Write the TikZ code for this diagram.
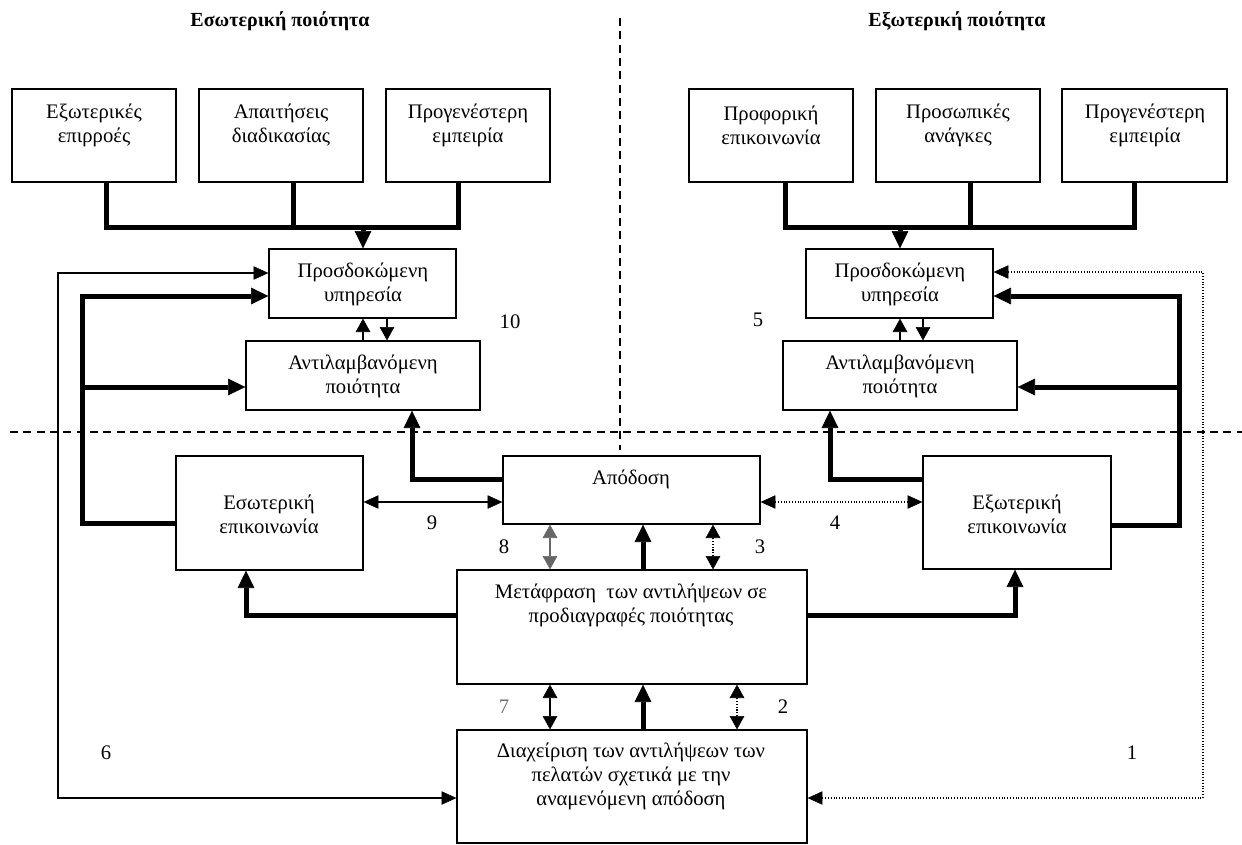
\documentclass[tikz,border=0pt]{standalone}
\usepackage{fontspec}
\setmainfont{Liberation Serif}
\usetikzlibrary{arrows.meta,fit}

\tikzset{
  box/.style={draw, line width=1pt, inner sep=0pt, fit={#1}},
  txt/.style={font=\fontsize{15.5}{18}\selectfont, align=center, inner sep=0pt},
  ttl/.style={font=\bfseries\fontsize{15}{18}\selectfont, inner sep=0pt},
  num/.style={font=\fontsize{15.5}{18}\selectfont, inner sep=0pt},
  divider/.style={line width=0.9pt, dash pattern=on 6pt off 4pt},
  bigtip/.tip={Triangle[length=13pt,width=12.5pt,line width=0.4pt]},
  smalltip/.tip={Triangle[length=11pt,width=10pt,line width=0.4pt]},
  vtip/.tip={Triangle[length=10pt,width=11pt,line width=0.4pt]},
  heavyline/.style={line width=3.75pt, line join=miter},
  heavy/.style={heavyline, -bigtip},
  light/.style={line width=1pt, line join=miter, -smalltip},
  lightboth/.style={line width=1pt, line join=miter, smalltip-smalltip},
  dotboth/.style={line width=0.8pt, dash pattern=on 0.8pt off 1.3pt, smalltip-smalltip},
  vboth/.style={line width=1pt, vtip-vtip},
  vdotboth/.style={line width=0.8pt, dash pattern=on 0.8pt off 1.3pt, vtip-vtip},
  vup/.style={line width=1pt, -vtip},
}

\begin{document}
\begin{tikzpicture}[x=0.75pt,y=-0.75pt]
\useasboundingbox (0,0) rectangle (1242,844);

% headings of the two halves
\node[ttl] (hin)  at (280,21) {Εσωτερική ποιότητα};
\node[ttl] (hout) at (957,21) {Εξωτερική ποιότητα};

% dashed dividers
\coordinate (dvt) at (620,18);
\coordinate (dvb) at (620,450);
\coordinate (dhl) at (10,432);
\coordinate (dhr) at (1242,432);
\draw[divider] (dvt) -- (dvb);
\draw[divider] (dhl) -- (dhr);

% top row, left
\node[box={(12,89) (176,182)}]  (tb1) {};
\node[box={(199,89) (363,182)}] (tb2) {};
\node[box={(386,89) (550,182)}] (tb3) {};
\node[txt] (tb1t) at (94,125)  {Εξωτερικές\\επιρροές};
\node[txt] (tb2t) at (281,125) {Απαιτήσεις\\διαδικασίας};
\node[txt] (tb3t) at (468,125) {Προγενέστερη\\εμπειρία};

% top row, right
\node[box={(689,89) (853,182)}]   (tr1) {};
\node[box={(876,89) (1040,182)}]  (tr2) {};
\node[box={(1062,89) (1227,182)}] (tr3) {};
\node[txt] (tr1t) at (771,125)  {Προφορική\\επικοινωνία};
\node[txt] (tr2t) at (958,125)  {Προσωπικές\\ανάγκες};
\node[txt] (tr3t) at (1145,125) {Προγενέστερη\\εμπειρία};

% expected service / perceived quality, left
\node[box={(269,249) (456,318)}] (expL) {};
\node[box={(246,341) (480,410)}] (perL) {};
\node[txt] (expLt) at (363,284) {Προσδοκώμενη\\υπηρεσία};
\node[txt] (perLt) at (363,376) {Αντιλαμβανόμενη\\ποιότητα};

% expected service / perceived quality, right
\node[box={(806,249) (993,318)}]  (expR) {};
\node[box={(783,341) (1017,410)}] (perR) {};
\node[txt] (expRt) at (900,284) {Προσδοκώμενη\\υπηρεσία};
\node[txt] (perRt) at (900,376) {Αντιλαμβανόμενη\\ποιότητα};

% lower blocks
\node[box={(176,456) (363,570)}]  (intc)  {};
\node[box={(923,456) (1111,569)}] (extc)  {};
\node[box={(503,456) (760,524)}]  (perf)  {};
\node[box={(457,570) (807,684)}]  (trans) {};
\node[box={(457,730) (807,843)}]  (mgmt)  {};
\node[txt] (intct)  at (269,514)  {Εσωτερική\\επικοινωνία};
\node[txt] (extct)  at (1017,514) {Εξωτερική\\επικοινωνία};
\node[txt] (perft)  at (631,479)  {Απόδοση};
\node[txt] (transt) at (631,605)  {Μετάφραση\ \ των αντιλήψεων σε\\προδιαγραφές ποιότητας};
\node[txt] (mgmtt)  at (631,776)  {Διαχείριση των αντιλήψεων των\\πελατών σχετικά με την\\αναμενόμενη απόδοση};

% gap numbers
\node[num] (n10) at (510,322) {10};
\node[num] (n5)  at (758,320) {5};
\node[num] (n9)  at (432,523) {9};
\node[num] (n4)  at (835,523) {4};
\node[num] (n8)  at (504,547) {8};
\node[num] (n3)  at (760,547) {3};
\node[num, text=black!55] (n7) at (504,707) {7};
\node[num] (n2)  at (783,707) {2};
\node[num] (n6)  at (106,753) {6};
\node[num] (n1)  at (1132,753) {1};

% feeders into expected service, left
\coordinate (lb1) at (106,227);
\coordinate (lb2) at (293,227);
\coordinate (lb3) at (458,227);
\coordinate (lbm) at (363,227);
\draw[heavyline] (tb1.south -| lb1) -- (lb1) -- (lb3) -- (tb3.south -| lb3);
\draw[heavyline] (tb2.south -| lb2) -- (lb2);
\draw[heavy] (lbm) -- (lbm |- expL.north);

% feeders into expected service, right
\coordinate (rb1) at (785,227);
\coordinate (rb2) at (970,227);
\coordinate (rb3) at (1134,227);
\coordinate (rbm) at (900,227);
\draw[heavyline] (tr1.south -| rb1) -- (rb1) -- (rb3) -- (tr3.south -| rb3);
\draw[heavyline] (tr2.south -| rb2) -- (rb2);
\draw[heavy] (rbm) -- (rbm |- expR.north);

% expected <-> perceived, left
\coordinate (elu) at (363,330);
\coordinate (eld) at (387,330);
\draw[vup] (elu |- perL.north) -- (elu |- expL.south);
\draw[vup] (eld |- expL.south) -- (eld |- perL.north);

% expected <-> perceived, right
\coordinate (eru) at (900,330);
\coordinate (erd) at (923,330);
\draw[vup] (eru |- perR.north) -- (eru |- expR.south);
\draw[vup] (erd |- expR.south) -- (erd |- perR.north);

% gap 6: management back to expected service, left
\coordinate (g6a) at (58,273);
\coordinate (g6b) at (58,798);
\draw[lightboth] (expL.west |- g6a) -- (g6a) -- (g6b) -- (mgmt.west |- g6b);

% internal communication into the left pair
\coordinate (ic1) at (82,296);
\coordinate (ic2) at (82,387);
\coordinate (ic3) at (82,523);
\draw[heavy] (intc.west |- ic3) -- (ic3) -- (ic1) -- (expL.west |- ic1);
\draw[heavy] (ic2) -- (perL.west |- ic2);

% external communication into the right pair
\coordinate (ec1) at (1179,296);
\coordinate (ec2) at (1179,387);
\coordinate (ec3) at (1179,525);
\draw[heavy] (extc.east |- ec3) -- (ec3) -- (ec1) -- (expR.east |- ec1);
\draw[heavy] (ec2) -- (perR.east |- ec2);

% gap 1: management to expected service, right
\coordinate (g1a) at (1203,272);
\coordinate (g1b) at (1203,798);
\draw[dotboth] (expR.east |- g1a) -- (g1a) -- (g1b) -- (mgmt.east |- g1b);

% performance to perceived quality, left; external communication to perceived quality, right
\coordinate (pl) at (412,479);
\coordinate (pr) at (830,479);
\draw[heavy] (perf.west |- pl) -- (pl) -- (pl |- perL.south);
\draw[heavy] (extc.west |- pr) -- (pr) -- (pr |- perR.south);

% gaps 9 and 4
\coordinate (g9) at (430,502);
\coordinate (g4) at (840,502);
\draw[lightboth] (intc.east |- g9) -- (perf.west |- g9);
\draw[dotboth] (perf.east |- g4) -- (extc.west |- g4);

% specifications out to the communication blocks
\coordinate (sl) at (246,615);
\coordinate (sr) at (1015,615);
\draw[heavy] (trans.west |- sl) -- (sl) -- (sl |- intc.south);
\draw[heavy] (trans.east |- sr) -- (sr) -- (sr |- extc.south);

% links between the central column
\coordinate (v1) at (550,650);
\coordinate (v2) at (643,650);
\coordinate (v3) at (713,650);
\coordinate (v4) at (737,650);
\draw[vboth, draw=black!60, fill=black!60] (v1 |- trans.north) -- (v1 |- perf.south);
\draw[heavy] (v2 |- trans.north) -- (v2 |- perf.south);
\draw[vdotboth] (v3 |- trans.north) -- (v3 |- perf.south);
\draw[vboth] (v1 |- mgmt.north) -- (v1 |- trans.south);
\draw[heavy] (v2 |- mgmt.north) -- (v2 |- trans.south);
\draw[vdotboth] (v4 |- mgmt.north) -- (v4 |- trans.south);

\end{tikzpicture}
\end{document}
